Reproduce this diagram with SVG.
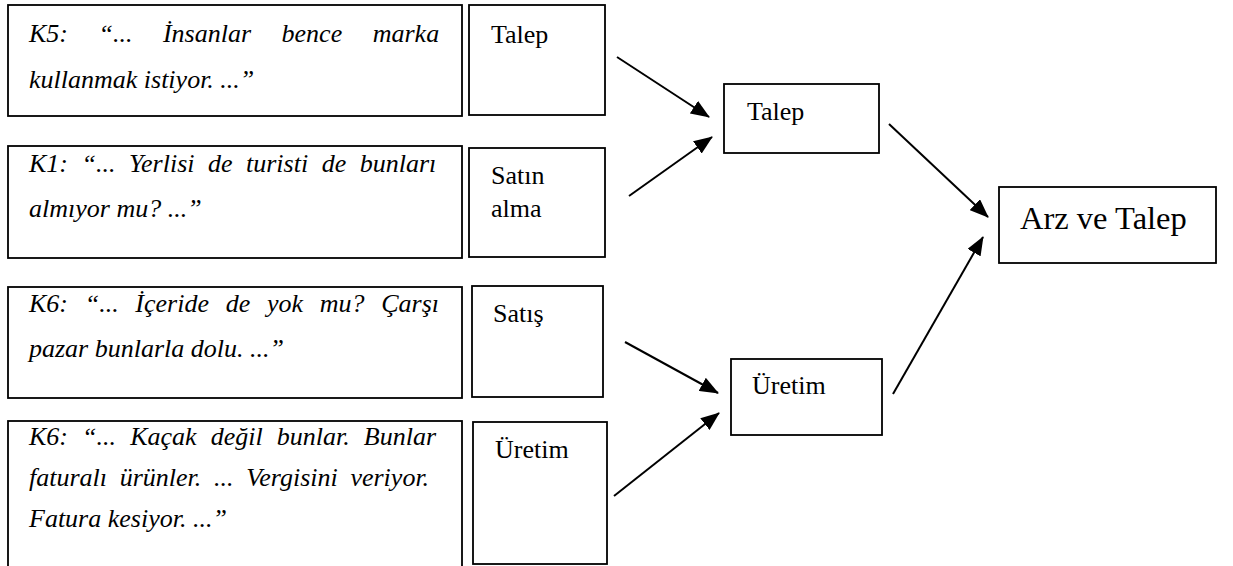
<svg xmlns="http://www.w3.org/2000/svg" width="1233" height="566" viewBox="0 0 1233 566">
<style>
.box{fill:#fff;stroke:#000;stroke-width:1.8}
.q{font-family:'Liberation Serif',Tinos,'DejaVu Serif',serif;font-style:italic;font-size:26px;fill:#000}
.t{font-family:'Liberation Serif',Tinos,'DejaVu Serif',serif;font-size:26px;fill:#000}
.big{font-family:'Liberation Serif',Tinos,'DejaVu Serif',serif;font-size:32.5px;fill:#000}
.c{stroke:#000;stroke-width:2;fill:none;marker-end:url(#ah)}
</style>
<defs>
<marker id="ah" markerUnits="userSpaceOnUse" markerWidth="19" markerHeight="15" refX="18" refY="7.5" orient="auto">
<path d="M0,0 L19,7.5 L0,15 z" fill="#000"/>
</marker>
</defs>
<rect width="1233" height="566" fill="#fff"/>

<g id="quote-k5">
<rect class="box" x="8" y="5" width="454" height="111"/>
<text class="q" x="29" y="42" word-spacing="24">K5: “... İnsanlar bence marka</text>
<text class="q" x="29" y="88">kullanmak istiyor. ...”</text>
</g>
<g id="quote-k1">
<rect class="box" x="8" y="146" width="454" height="112"/>
<text class="q" x="29" y="172" word-spacing="7">K1: “... Yerlisi de turisti de bunları</text>
<text class="q" x="29" y="217">almıyor mu? ...”</text>
</g>
<g id="quote-k6a">
<rect class="box" x="8" y="287" width="454" height="111"/>
<text class="q" x="29" y="312" word-spacing="10.2">K6: “... İçeride de yok mu? Çarşı</text>
<text class="q" x="29" y="357">pazar bunlarla dolu. ...”</text>
</g>
<g id="quote-k6b">
<rect class="box" x="8" y="421" width="454" height="160"/>
<text class="q" x="29" y="445" word-spacing="7.6">K6: “... Kaçak değil bunlar. Bunlar</text>
<text class="q" x="29" y="486" word-spacing="6.2">faturalı ürünler. ... Vergisini veriyor.</text>
<text class="q" x="29" y="527">Fatura kesiyor. ...”</text>
</g>

<g id="code-talep">
<rect class="box" x="469" y="5" width="136" height="110"/>
<text class="t" x="491" y="43">Talep</text>
</g>
<g id="code-satinalma">
<rect class="box" x="469" y="148" width="136" height="109"/>
<text class="t" x="491" y="184">Satın</text>
<text class="t" x="491" y="217">alma</text>
</g>
<g id="code-satis">
<rect class="box" x="472" y="286" width="131" height="111"/>
<text class="t" x="493" y="322">Satış</text>
</g>
<g id="code-uretim">
<rect class="box" x="473" y="422" width="134" height="142"/>
<text class="t" x="495" y="458">Üretim</text>
</g>

<g id="cat-talep">
<rect class="box" x="724" y="84" width="155" height="69"/>
<text class="t" x="747" y="120">Talep</text>
</g>
<g id="cat-uretim">
<rect class="box" x="731" y="359" width="151" height="76"/>
<text class="t" x="752" y="394">Üretim</text>
</g>
<g id="theme-arz">
<rect class="box" x="999" y="187" width="217" height="76"/>
<text class="big" x="1020" y="229">Arz ve Talep</text>
</g>

<g id="connectors">
<line class="c" x1="617" y1="57" x2="709" y2="117"/>
<line class="c" x1="629" y1="196" x2="712" y2="137"/>
<line class="c" x1="625" y1="342" x2="718" y2="393"/>
<line class="c" x1="614" y1="496" x2="719" y2="413"/>
<line class="c" x1="889" y1="124" x2="988" y2="217"/>
<line class="c" x1="893" y1="394" x2="983" y2="237"/>
</g>
</svg>
